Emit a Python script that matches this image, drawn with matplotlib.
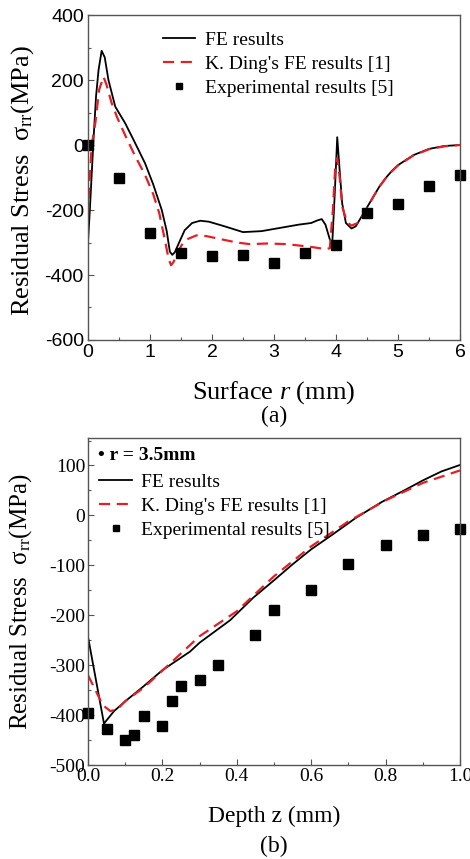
import matplotlib
matplotlib.use("Agg")
import matplotlib.pyplot as plt
from matplotlib.ticker import MultipleLocator

plt.rcParams["font.family"] = ["Liberation Serif", "DejaVu Serif"]
plt.rcParams["mathtext.fontset"] = "custom"
plt.rcParams["mathtext.rm"] = "Liberation Serif"
plt.rcParams["mathtext.it"] = "Liberation Serif:italic"
plt.rcParams["mathtext.bf"] = "Liberation Serif:bold"
plt.rcParams["axes.unicode_minus"] = False

RED = "#e32027"
SPINE = "#555555"

# (a) surface profile
r_fe = [0, 0.03, 0.06, 0.09, 0.13, 0.17, 0.22, 0.27, 0.33, 0.44, 0.6, 0.75, 0.92,
        1.05, 1.19, 1.27, 1.32, 1.36, 1.4, 1.47, 1.56, 1.68, 1.81, 1.95, 2.2, 2.5,
        2.8, 3.1, 3.4, 3.6, 3.7, 3.77, 3.83, 3.9, 3.94, 3.98, 4.02, 4.06, 4.1, 4.16,
        4.25, 4.32, 4.45, 4.6, 4.7, 4.8, 4.9, 5.0, 5.25, 5.5, 5.75, 6.0]
s_fe = [-300, -200, -90, 20, 150, 230, 290, 270, 200, 118, 67, 10, -56,
        -120, -200, -265, -328, -338, -330, -300, -262, -240, -233, -236, -250, -268,
        -265, -255, -245, -240, -232, -228, -245, -290, -303, -150, 24, -80, -180, -240,
        -257, -250, -208, -160, -128, -102, -80, -62, -31, -12, -3, 0]

r_ding = [0, 0.03, 0.06, 0.12, 0.18, 0.25, 0.3, 0.38, 0.47, 0.6, 0.75, 0.92, 1.05,
          1.15, 1.24, 1.3, 1.34, 1.38, 1.45, 1.51, 1.6, 1.75, 1.9, 2.1, 2.4, 2.61,
          2.9, 3.2, 3.58, 3.82, 3.9, 3.95, 3.99, 4.02, 4.06, 4.1, 4.18, 4.25, 4.35,
          4.47, 4.6, 4.7, 4.8, 4.9, 5.0, 5.25, 5.5, 5.75, 6.0]
s_ding = [-220, -100, 0, 70, 170, 210, 185, 130, 85, 30, -30, -92, -150,
          -210, -292, -350, -370, -360, -330, -308, -290, -278, -280, -288, -300, -305,
          -303, -305, -313, -320, -318, -200, -60, -40, -100, -190, -238, -248, -240,
          -205, -160, -128, -103, -81, -63, -32, -13, -4, 0]

r_exp = [0, 0.5, 1.0, 1.5, 2.0, 2.5, 3.0, 3.5, 4.0, 4.5, 5.0, 5.5, 6.0]
s_exp_a = [0, -100, -270, -331, -342, -338, -362, -331, -308, -210, -182, -126, -92]

# (b) depth profile at r = 3.5 mm
z_fe = [0, 0.043, 0.07, 0.104, 0.15, 0.2, 0.274, 0.3, 0.382, 0.444, 0.5, 0.55, 0.6,
        0.66, 0.72, 0.79, 0.85, 0.9, 0.95, 1.0]
d_fe = [-243, -417, -392, -370, -342, -310, -273, -255, -210, -165, -130, -98, -68,
        -37, -5, 27, 50, 70, 88, 101]

z_ding = [0, 0.02, 0.04, 0.06, 0.08, 0.1, 0.15, 0.216, 0.3, 0.4, 0.5, 0.6, 0.7,
          0.8, 0.9, 1.0]
d_ding = [-320, -350, -380, -392, -388, -372, -345, -300, -242, -192, -122, -62, -12,
          30, 65, 90]

z_exp = [0, 0.05, 0.1, 0.125, 0.15, 0.2, 0.225, 0.25, 0.3, 0.35, 0.45, 0.5, 0.6,
         0.7, 0.8, 0.9, 1.0]
d_exp = [-395, -427, -450, -440, -401, -421, -371, -341, -330, -300, -240, -189, -150,
         -98, -60, -40, -27]

LABELS = ["FE results", "K. Ding's FE results [1]", "Experimental results [5]"]
YLABEL = r"Residual Stress  σ$_{\rm rr}$(MPa)"


def style_axes(ax):
    for sp in ax.spines.values():
        sp.set_color(SPINE)
        sp.set_linewidth(1.0)
    ax.tick_params(which="both", direction="in", color=SPINE, width=0.8)
    ax.tick_params(which="major", length=4)
    ax.tick_params(which="minor", length=2.5)


def draw(ax, x_fe, y_fe, x_ding, y_ding, x_exp, y_exp):
    ax.plot(x_fe, y_fe, color="black", lw=1.3, label=LABELS[0])
    ax.plot(x_ding, y_ding, color=RED, lw=1.6, dashes=(5, 3), label=LABELS[1])
    ax.plot(x_exp, y_exp, ls="none", marker="s", ms=7.5, color="black",
            clip_on=False, label=LABELS[2])


def main():
    fig = plt.figure(figsize=(4.70, 8.59), dpi=100)

    # ---- (a)
    ax1 = fig.add_axes([0.1872, 0.6042, 0.7915, 0.3783])
    draw(ax1, r_fe, s_fe, r_ding, s_ding, r_exp, s_exp_a)
    ax1.set_xlim(0, 6)
    ax1.set_ylim(-600, 400)
    ax1.xaxis.set_major_locator(MultipleLocator(1))
    ax1.xaxis.set_minor_locator(MultipleLocator(0.5))
    ax1.yaxis.set_major_locator(MultipleLocator(200))
    ax1.yaxis.set_minor_locator(MultipleLocator(100))
    style_axes(ax1)
    ax1.tick_params(which="major", labelsize=14, pad=3)
    for lab in ax1.get_xticklabels() + ax1.get_yticklabels():
        lab.set_family("Liberation Sans")
    ax1.set_xlabel(r"Surface $r$ (mm)", fontsize=19)
    ax1.xaxis.set_label_coords(0.5, -0.122)
    ax1.set_ylabel(YLABEL, fontsize=19)
    ax1.yaxis.set_label_coords(-0.14, 0.49)
    ax1.legend(loc="upper left", bbox_to_anchor=(0.18, 0.975), frameon=False,
               fontsize=14, handlelength=1.65, handletextpad=0.5,
               labelspacing=0.33, markerscale=0.6, borderaxespad=0)
    fig.text(0.583, 0.5157, "(a)", ha="center", va="center", fontsize=17)

    # ---- (b)
    ax2 = fig.add_axes([0.1872, 0.1094, 0.7915, 0.3807])
    draw(ax2, z_fe, d_fe, z_ding, d_ding, z_exp, d_exp)
    ax2.set_xlim(0, 1.0)
    ax2.set_ylim(-500, 155)
    ax2.xaxis.set_major_locator(MultipleLocator(0.2))
    ax2.xaxis.set_minor_locator(MultipleLocator(0.1))
    ax2.yaxis.set_major_locator(MultipleLocator(100))
    ax2.yaxis.set_minor_locator(MultipleLocator(50))
    ax2.xaxis.set_major_formatter(lambda v, p: f"{v:.1f}")
    style_axes(ax2)
    ax2.tick_params(which="major", labelsize=14, pad=2)
    ax2.set_xlabel("Depth z (mm)", fontsize=17)
    ax2.xaxis.set_label_coords(0.5, -0.125)
    ax2.set_ylabel(YLABEL, fontsize=18)
    ax2.yaxis.set_label_coords(-0.145, 0.5)
    ax2.text(0.027, 0.945, "• r = 3.5mm", transform=ax2.transAxes, fontsize=14,
             fontweight="bold", ha="left", va="center")
    ax2.legend(loc="upper left", bbox_to_anchor=(0.01, 0.915), frameon=False,
               fontsize=14, handlelength=1.65, handletextpad=0.5,
               labelspacing=0.33, markerscale=0.6, borderaxespad=0)
    fig.text(0.583, 0.0145, "(b)", ha="center", va="center", fontsize=17)

    fig.savefig("out.png", dpi=100)
    plt.close(fig)


if __name__ == "__main__":
    main()
